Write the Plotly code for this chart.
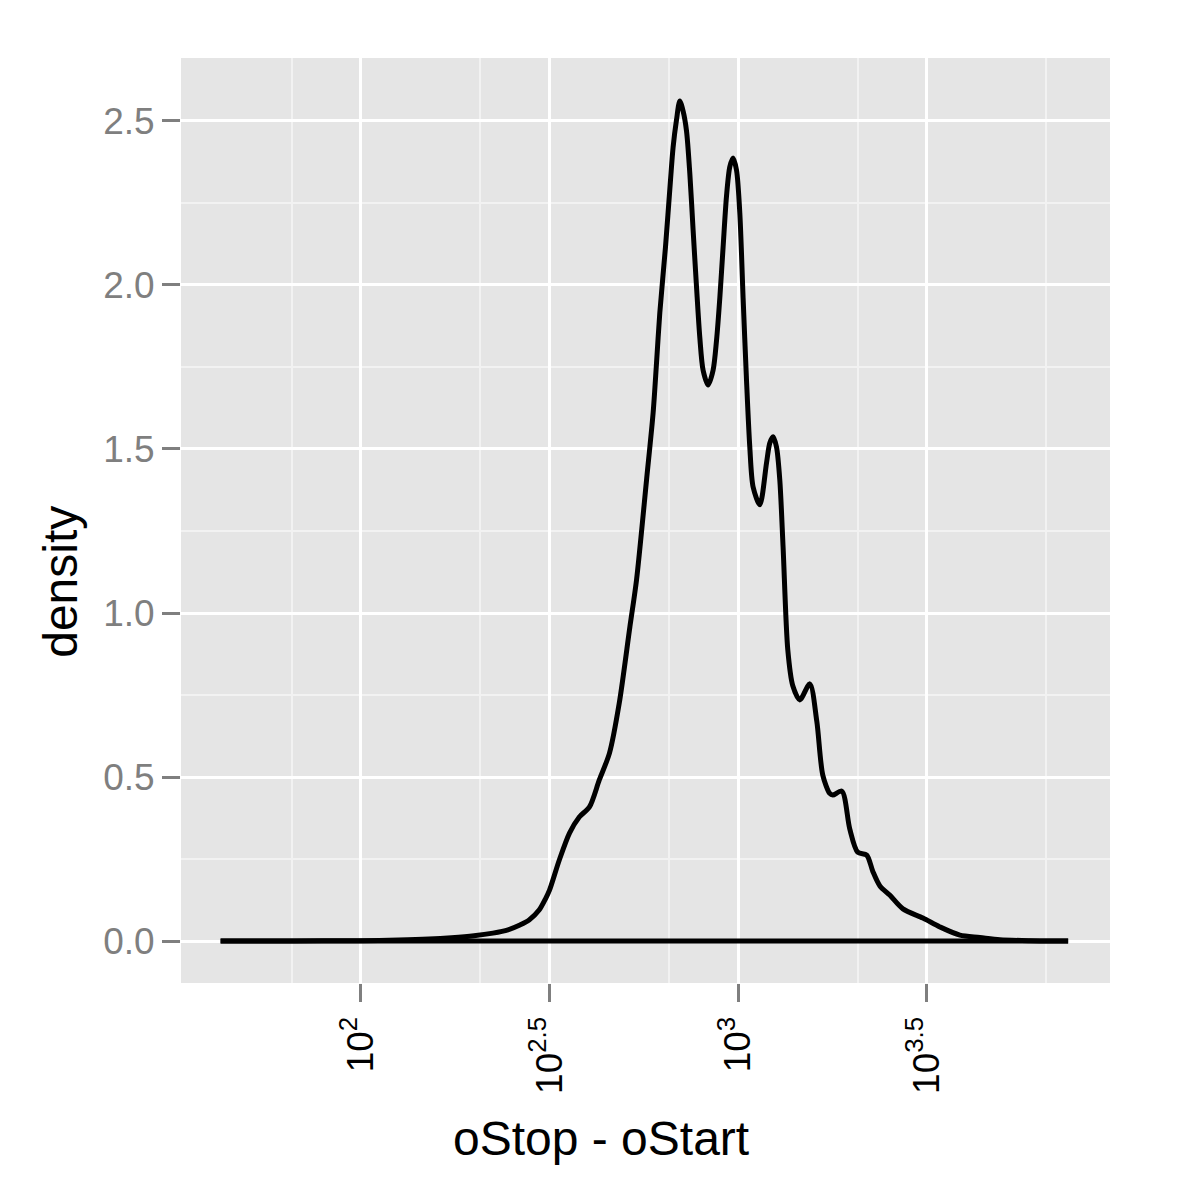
import plotly.graph_objects as go

# log10(oStop - oStart) grid and density values
log_len = [1.628, 1.75, 1.9, 2.0, 2.1, 2.18, 2.24, 2.30, 2.35, 2.39, 2.42, 2.446,
           2.473, 2.49, 2.5, 2.526, 2.553, 2.579, 2.606, 2.632, 2.659, 2.685, 2.713,
           2.7306, 2.7572, 2.7747, 2.7837, 2.7924, 2.8075, 2.8208, 2.8277, 2.8367, 2.8454,
           2.8542, 2.8632, 2.8720, 2.8807, 2.8897, 2.8985, 2.9072, 2.9205, 2.9337, 2.9427,
           2.9515, 2.9602, 2.9692, 2.9780, 2.9867, 2.9958, 3.0045, 3.0133, 3.0223, 3.031,
           3.0398, 3.0576, 3.0753, 3.0840, 3.0928, 3.1018, 3.1106, 3.1193,
           3.1318, 3.145, 3.1636, 3.190, 3.2086, 3.2245, 3.243, 3.251, 3.275, 3.296, 3.317,
           3.341, 3.357, 3.376, 3.402, 3.437, 3.490, 3.535, 3.588, 3.641, 3.694, 3.774,
           3.875]
density = [0.0, 0.0, 0.0005, 0.001, 0.003, 0.006, 0.010, 0.016, 0.024, 0.034, 0.048, 0.064,
           0.095, 0.13, 0.155, 0.247, 0.329, 0.378, 0.409, 0.491, 0.573, 0.726, 0.957,
           1.10, 1.405, 1.61, 1.762, 1.915, 2.116, 2.32, 2.42, 2.503, 2.561,
           2.53, 2.47, 2.34, 2.168, 1.995, 1.84, 1.74, 1.695, 1.74, 1.83,
           1.96, 2.115, 2.27, 2.36, 2.387, 2.35, 2.22, 1.96, 1.71, 1.506,
           1.384, 1.33, 1.457, 1.518, 1.537, 1.506, 1.405, 1.2,
           0.887, 0.778, 0.735, 0.784, 0.67, 0.506, 0.45, 0.445, 0.457, 0.342, 0.271,
           0.262, 0.213, 0.168, 0.14, 0.098, 0.07, 0.043, 0.018, 0.011, 0.004, 0.001,
           0.0]

x_tick_logs = [2, 2.5, 3, 3.5]
x_tick_text = ["10<sup>2</sup>", "10<sup>2.5</sup>", "10<sup>3</sup>", "10<sup>3.5</sup>"]
x_minor_logs = [1.817, 2.317, 2.817, 3.317, 3.817]
y_tick_vals = [0.0, 0.5, 1.0, 1.5, 2.0, 2.5]
y_tick_text = ["0.0", "0.5", "1.0", "1.5", "2.0", "2.5"]
y_minor_vals = [0.25, 0.75, 1.25, 1.75, 2.25]

x_vals = [10 ** v for v in log_len]

fig = go.Figure()
# density curve
fig.add_trace(go.Scatter(
    x=x_vals, y=density, mode="lines",
    line=dict(color="black", width=5, shape="spline", smoothing=0.8),
    hoverinfo="skip", showlegend=False,
))
# baseline closing the outline, as geom_density draws it
fig.add_trace(go.Scatter(
    x=[x_vals[-1], x_vals[0]], y=[density[-1], density[0]], mode="lines",
    line=dict(color="black", width=5),
    hoverinfo="skip", showlegend=False,
))

FONT = "Liberation Sans, Arial, Helvetica, sans-serif"
TICKGREY = "#7F7F7F"

fig.update_layout(
    width=1200, height=1200, autosize=False,
    margin=dict(l=173, r=98, t=50, b=225),
    paper_bgcolor="white", plot_bgcolor="#E5E5E5",
    font=dict(family=FONT),
    showlegend=False,
    xaxis=dict(
        type="log", range=[1.523, 3.986],
        tickmode="array", tickvals=[10 ** v for v in x_tick_logs], ticktext=x_tick_text,
        tickangle=-90, tickfont=dict(size=37, color="black", family=FONT),
        ticks="outside", ticklen=18, tickwidth=3, tickcolor=TICKGREY,
        showgrid=True, gridcolor="white", gridwidth=3,
        minor=dict(tickmode="array", tickvals=[10 ** v for v in x_minor_logs],
                   showgrid=True, gridcolor="#F2F2F2", gridwidth=1.5, ticks=""),
        zeroline=False, showline=False,
    ),
    yaxis=dict(
        range=[-0.128, 2.692],
        tickmode="array", tickvals=y_tick_vals, ticktext=y_tick_text,
        tickfont=dict(size=37, color=TICKGREY, family=FONT),
        ticks="outside", ticklen=18, tickwidth=3, tickcolor=TICKGREY,
        showgrid=True, gridcolor="white", gridwidth=3,
        minor=dict(tickmode="array", tickvals=y_minor_vals,
                   showgrid=True, gridcolor="#F2F2F2", gridwidth=1.5, ticks=""),
        zeroline=False, showline=False,
    ),
    annotations=[
        dict(text="oStop - oStart", xref="paper", yref="paper",
             x=0.452, y=-0.168, xanchor="center", yanchor="middle",
             showarrow=False, font=dict(size=48, color="black", family=FONT)),
        dict(text="density", xref="paper", yref="paper",
             x=-0.13, y=0.434, xanchor="center", yanchor="middle", textangle=-90,
             showarrow=False, font=dict(size=48, color="black", family=FONT)),
    ],
)

fig.write_html("out.html")
